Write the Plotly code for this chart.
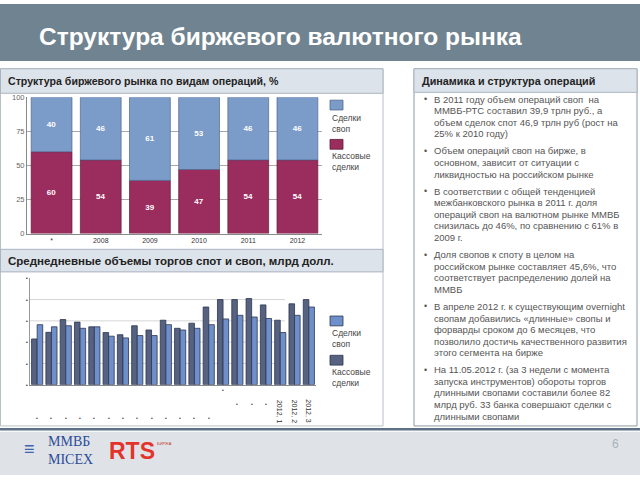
import plotly.graph_objects as go

W, H = 640, 480


def px(x):
    return x / W


def py(y):
    return 1 - y / H


# ---------------- data ----------------
struct_years = ["*", "2008", "2009", "2010", "2011", "2012"]
cash_share = [60, 54, 39, 47, 54, 54]
swap_share = [40, 46, 61, 53, 46, 46]
share_ticks = [0, 25, 50, 75, 100]

period_labels = ["•"] * 17 + ["2012, 1", "2012, 2", "2012, 3"]
cash_volume = [2.15, 2.46, 3.06, 2.94, 2.72, 2.45, 2.35, 2.77, 2.57, 3.03,
               2.65, 2.89, 3.65, 4.00, 4.00, 4.05, 3.75, 3.03, 3.80, 4.00]
swap_volume = [2.82, 2.72, 2.77, 2.65, 2.72, 2.28, 2.20, 2.31, 2.31, 2.82,
               2.57, 2.65, 2.82, 3.09, 3.26, 3.18, 3.11, 2.45, 3.26, 3.65]
volume_ticks = [0, 1, 2, 3, 4, 5]
volume_ticktext = ["•"] * 6

swap_name = "Сделки своп"
cash_name = "Кассовые сделки"

title_text = "Структура биржевого валютного рынка"
header1 = "Структура биржевого рынка по видам операций, %"
header2 = "Среднедневные объемы торгов спот и своп, млрд долл."
header3 = "Динамика и структура операций"

bullets = [
    ["В 2011 году объем операций своп  на",
     "ММВБ-РТС составил 39,9 трлн руб., а",
     "объем сделок спот 46,9 трлн руб (рост на",
     "25% к 2010 году)"],
    ["Объем операций своп на бирже, в",
     "основном, зависит от ситуации с",
     "ликвидностью на российском рынке"],
    ["В соответствии с общей тенденцией",
     "межбанковского рынка в 2011 г. доля",
     "операций своп на валютном рынке ММВБ",
     "снизилась до 46%, по сравнению с 61% в",
     "2009 г."],
    ["Доля свопов к споту в целом на",
     "российском рынке составляет 45,6%, что",
     "соответствует распределению долей на",
     "ММВБ"],
    ["В апреле 2012 г. к существующим overnight",
     "свопам добавились «длинные» свопы и",
     "форварды сроком до 6 месяцев, что",
     "позволило достичь качественного развития",
     "этого сегмента на бирже"],
    ["На 11.05.2012 г. (за 3 недели с момента",
     "запуска инструментов) обороты торгов",
     "длинными свопами составили более 82",
     "млрд руб. 33 банка совершают сделки с",
     "длинными свопами"],
]

# ---------------- styles ----------------
FONT = "Liberation Sans, Arial, sans-serif"
C_CRIMSON = "#9b2c5e"
C_BLUE1 = "#7b9bc9"
C_DARK2 = "#56627f"
C_LIGHT2 = "#6f8fca"
C_HEADER = "#dde3ea"
C_HEADER_LINE = "#aab4c0"

fig = go.Figure()

# chart 1: stacked shares
fig.add_trace(go.Bar(
    x=struct_years, y=cash_share, name=cash_name, xaxis="x", yaxis="y",
    marker=dict(color=C_CRIMSON, line=dict(color="#5e1c3a", width=0.7)),
    width=0.83, offset=-0.415,
    text=cash_share, texttemplate="<b>%{text}</b>", textposition="inside",
    insidetextanchor="middle", textangle=0,
    textfont=dict(color="white", size=8, family=FONT), showlegend=False))
fig.add_trace(go.Bar(
    x=struct_years, y=swap_share, base=cash_share, name=swap_name,
    xaxis="x", yaxis="y",
    marker=dict(color=C_BLUE1, line=dict(color="#50698f", width=0.7)),
    width=0.83, offset=-0.415,
    text=swap_share, texttemplate="<b>%{text}</b>", textposition="inside",
    insidetextanchor="middle", textangle=0,
    textfont=dict(color="white", size=8, family=FONT), showlegend=False))

# chart 2: grouped volumes
xi = list(range(len(period_labels)))
fig.add_trace(go.Bar(
    x=xi, y=cash_volume, name=cash_name, xaxis="x2", yaxis="y2",
    marker=dict(color=C_DARK2, line=dict(color="#2c3650", width=0.8)),
    width=0.39, offset=-0.39, showlegend=False))
fig.add_trace(go.Bar(
    x=xi, y=swap_volume, name=swap_name, xaxis="x2", yaxis="y2",
    marker=dict(color=C_LIGHT2, line=dict(color="#2c3650", width=0.8)),
    width=0.39, offset=0.0, showlegend=False))

shapes = []
annotations = []

# title band
shapes.append(dict(type="rect", xref="paper", yref="paper", x0=0, x1=1,
                   y0=py(58), y1=1, fillcolor="#708390", line_width=0,
                   layer="below"))
annotations.append(dict(text=f"<b>{title_text}</b>", xref="paper", yref="paper",
                        x=px(37), y=py(33), xanchor="left", yanchor="middle",
                        showarrow=False,
                        font=dict(family=FONT, size=24.5, color="white")))

# panel boxes
shapes.append(dict(type="rect", xref="paper", yref="paper", x0=px(0.5), x1=px(383),
                   y0=py(430), y1=py(66), line=dict(color="#b8c0c8", width=1),
                   fillcolor="rgba(0,0,0,0)", layer="below"))
shapes.append(dict(type="rect", xref="paper", yref="paper", x0=px(414), x1=px(637),
                   y0=py(430), y1=py(66), line=dict(color="#8e98a4", width=1),
                   fillcolor="rgba(0,0,0,0)", layer="below"))

# header bands
for (x0, x1, y0, y1, txt, fs, tx) in [
        (0.5, 383, 66, 91, header1, 10.6, 6),
        (0.5, 383, 250, 273, header2, 11.5, 6),
        (414, 637, 66, 90, header3, 10.8, 420)]:
    shapes.append(dict(type="rect", xref="paper", yref="paper", x0=px(x0),
                       x1=px(x1), y0=py(y1), y1=py(y0), fillcolor=C_HEADER,
                       line=dict(color=C_HEADER_LINE, width=1), layer="below"))
    annotations.append(dict(text=f"<b>{txt}</b>", xref="paper", yref="paper",
                            x=px(tx), y=py((y0 + y1) / 2), xanchor="left",
                            yanchor="middle", showarrow=False,
                            font=dict(family=FONT, size=fs, color="#222222")))

# footer
shapes.append(dict(type="rect", xref="paper", yref="paper", x0=0, x1=1,
                   y0=0, y1=py(436), fillcolor="#dfe3e7", line_width=0,
                   layer="below"))
shapes.append(dict(type="line", xref="paper", yref="paper", x0=0, x1=1,
                   y0=py(433.5), y1=py(433.5),
                   line=dict(color="#5d7086", width=2.5), layer="below"))
annotations.append(dict(text="≡", xref="paper", yref="paper", x=px(22),
                        y=py(454), xanchor="left", yanchor="middle",
                        showarrow=False,
                        font=dict(family=FONT, size=18, color="#3f63b0")))
annotations.append(dict(text="ММВБ<br>MICEX", xref="paper", yref="paper",
                        x=px(46), y=py(455), xanchor="left", yanchor="middle",
                        showarrow=False, align="left",
                        font=dict(family="Liberation Serif, serif", size=14,
                                  color="#2d4c9a")))
annotations.append(dict(text="<b>RTS</b>", xref="paper", yref="paper",
                        x=px(107), y=py(456), xanchor="left", yanchor="middle",
                        showarrow=False,
                        font=dict(family=FONT, size=23, color="#e3342b")))
annotations.append(dict(text="БИРЖА", xref="paper", yref="paper",
                        x=px(155), y=py(448), xanchor="left", yanchor="middle",
                        showarrow=False,
                        font=dict(family=FONT, size=4, color="#c0392b")))
annotations.append(dict(text="6", xref="paper", yref="paper",
                        x=px(615), y=py(448), xanchor="center", yanchor="middle",
                        showarrow=False,
                        font=dict(family=FONT, size=12, color="#aab2ba")))

# legends (manual, square above text)
for (sq_y, txt_y, col, line_col, name) in [
        (98, 122, C_BLUE1, "#50698f", swap_name),
        (138, 161, C_CRIMSON, "#5e1c3a", cash_name),
        (318, 341, C_LIGHT2, "#2c3650", swap_name),
        (358, 381, C_DARK2, "#2c3650", cash_name)]:
    shapes.append(dict(type="rect", xref="paper", yref="paper", x0=px(330),
                       x1=px(343), y0=py(sq_y + 10), y1=py(sq_y),
                       fillcolor=col, line=dict(color=line_col, width=0.8)))
    annotations.append(dict(text=name.replace(" ", "<br>"), xref="paper",
                            yref="paper", x=px(330), y=py(txt_y),
                            xanchor="left", yanchor="middle", showarrow=False,
                            align="left",
                            font=dict(family=FONT, size=8.5, color="#444444")))

# chart 2 gridlines
for v in volume_ticks[1:-1]:
    shapes.append(dict(type="line", xref="paper", yref="y2", x0=px(30),
                       x1=px(285), y0=v, y1=v,
                       line=dict(color="#d6d6d6", width=1), layer="below"))

# chart 2 category labels (staggered)
label_drop = [422] * 13 + [393] + [408] * 3 + [415] * 3
for i, lab in enumerate(period_labels):
    rotated = lab != "•"
    annotations.append(dict(text=lab, xref="x2", yref="paper", x=xi[i],
                            y=py(label_drop[i]), xanchor="center",
                            yanchor="middle", showarrow=False,
                            textangle=90 if rotated else 0,
                            font=dict(family=FONT, size=7 if rotated else 5,
                                      color="#333333")))

# bullet text
y = 97.0
for para in bullets:
    annotations.append(dict(text="•", xref="paper", yref="paper", x=px(422),
                            y=py(y), xanchor="left", yanchor="middle",
                            showarrow=False,
                            font=dict(family=FONT, size=9, color="#555555")))
    for line in para:
        annotations.append(dict(text=line, xref="paper", yref="paper",
                                x=px(432), y=py(y), xanchor="left",
                                yanchor="middle", showarrow=False,
                                font=dict(family=FONT, size=9.5,
                                          color="#555555")))
        y += 11.8
    y += 5.6

fig.update_layout(
    width=W, height=H, margin=dict(l=0, r=0, t=0, b=0),
    paper_bgcolor="white", plot_bgcolor="rgba(0,0,0,0)",
    barmode="overlay", showlegend=False,
    font=dict(family=FONT),
    xaxis=dict(domain=[px(27), px(322)], type="category",
               showline=True, linecolor="#888888", ticks="",
               tickfont=dict(size=7, color="#333333", family=FONT),
               fixedrange=True, anchor="y"),
    yaxis=dict(domain=[py(234), py(95)], range=[0, 100], tickvals=share_ticks,
               showgrid=True, gridcolor="#a9a9a9", gridwidth=1,
               showline=True, linecolor="#888888", zeroline=False,
               tickfont=dict(size=7.5, color="#666666", family=FONT),
               anchor="x"),
    xaxis2=dict(domain=[px(30), px(316)], range=[-0.5, len(xi) - 0.5],
                showticklabels=False, showline=True, linecolor="#888888",
                showgrid=False, zeroline=False, anchor="y2"),
    yaxis2=dict(domain=[py(388), py(279.5)], range=[0, 5],
                tickvals=volume_ticks, ticktext=volume_ticktext,
                showgrid=False, showline=True, linecolor="#999999",
                zeroline=False,
                tickfont=dict(size=6, color="#444444", family=FONT),
                anchor="x2"),
    shapes=shapes, annotations=annotations,
)

fig.write_html("out.html", config={"displayModeBar": False},
               post_script="document.body.style.margin='0px';")
